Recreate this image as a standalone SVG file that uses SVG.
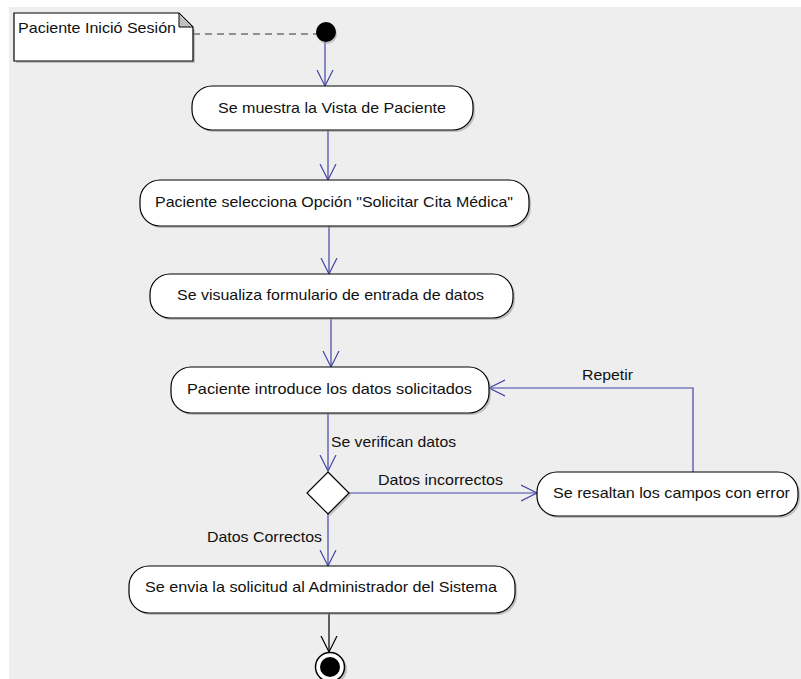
<svg xmlns="http://www.w3.org/2000/svg" width="801" height="679" viewBox="0 0 801 679">
  <style>
    .act { fill: #ffffff; stroke: #000000; stroke-width: 1.2; }
    .shadow { fill: #9a9a9a; opacity: 0.55; }
    .lbl { font-family: "Liberation Sans", Arial, sans-serif; font-size: 15px; fill: #111111; }
    .flow { stroke: #4343a8; stroke-width: 1.2; fill: none; }
    .flowEnd { stroke: #000000; stroke-width: 1.2; fill: none; }
  </style>
  <defs>
    <marker id="openArrow" viewBox="0 0 20 20" refX="16" refY="10" markerWidth="20" markerHeight="20" markerUnits="userSpaceOnUse" orient="auto">
      <path d="M0,2 L16,10 L0,18" fill="none" stroke="#4343a8" stroke-width="1.2"/>
    </marker>
    <marker id="openArrowBlack" viewBox="0 0 20 20" refX="16" refY="10" markerWidth="20" markerHeight="20" markerUnits="userSpaceOnUse" orient="auto">
      <path d="M0,2 L16,10 L0,18" fill="none" stroke="#000000" stroke-width="1.2"/>
    </marker>
  </defs>

  <!-- canvas -->
  <rect x="0" y="0" width="801" height="679" fill="#ffffff"/>
  <rect x="9" y="7" width="792" height="672" fill="#eeeeee"/>

  <!-- connectors -->
  <g id="connectors">
    <line x1="193" y1="34" x2="318" y2="34" stroke="#333333" stroke-width="1.2" stroke-dasharray="7,5"/>
    <line class="flow" x1="325" y1="42" x2="325" y2="86" marker-end="url(#openArrow)"/>
    <line class="flow" x1="328" y1="130" x2="328" y2="180" marker-end="url(#openArrow)"/>
    <line class="flow" x1="329" y1="226" x2="329" y2="274" marker-end="url(#openArrow)"/>
    <line class="flow" x1="331" y1="318" x2="331" y2="367" marker-end="url(#openArrow)"/>
    <line class="flow" x1="328" y1="413" x2="328" y2="471" marker-end="url(#openArrow)"/>
    <line class="flow" x1="349" y1="493" x2="537" y2="493" marker-end="url(#openArrow)"/>
    <polyline class="flow" points="693,472 693,388 489,388" marker-end="url(#openArrow)"/>
    <line class="flow" x1="328" y1="514" x2="328" y2="566" marker-end="url(#openArrow)"/>
    <line class="flowEnd" x1="329" y1="613" x2="329" y2="652" marker-end="url(#openArrowBlack)"/>
    <text class="lbl" x="331" y="447" textLength="125" lengthAdjust="spacingAndGlyphs">Se verifican datos</text>
    <text class="lbl" x="378" y="485" textLength="125" lengthAdjust="spacingAndGlyphs">Datos incorrectos</text>
    <text class="lbl" x="582" y="380" textLength="51" lengthAdjust="spacingAndGlyphs">Repetir</text>
    <text class="lbl" x="207" y="542" textLength="115" lengthAdjust="spacingAndGlyphs">Datos Correctos</text>
  </g>

  <!-- note -->
  <g id="note">
    <path d="M16,15 L180,15 L195,30 L195,63 L16,63 Z" class="shadow"/>
    <path d="M14,13 L179,13 L193,27 L193,61 L14,61 Z" fill="#ffffff" stroke="#000000" stroke-width="1.2"/>
    <path d="M179,13 L179,27 L193,27 Z" fill="#c0c0c0" stroke="#000000" stroke-width="1"/>
    <text class="lbl" x="18" y="33" textLength="158" lengthAdjust="spacingAndGlyphs">Paciente Inició Sesión</text>
  </g>

  <!-- initial node -->
  <g id="initial">
    <circle cx="327" cy="34" r="10" fill="#9a9a9a" opacity="0.55"/>
    <circle cx="326" cy="32" r="10" fill="#000000"/>
  </g>

  <g id="a1">
    <rect class="shadow" x="194" y="88" width="281" height="44" rx="20"/>
    <rect class="act" x="192" y="86" width="281" height="44" rx="20"/>
    <text class="lbl" x="218" y="113" textLength="228" lengthAdjust="spacingAndGlyphs">Se muestra la Vista de Paciente</text>
  </g>

  <g id="a2">
    <rect class="shadow" x="142" y="182" width="389" height="46" rx="20"/>
    <rect class="act" x="140" y="180" width="389" height="46" rx="20"/>
    <text class="lbl" x="155" y="207" textLength="358" lengthAdjust="spacingAndGlyphs">Paciente selecciona Opción "Solicitar Cita Médica"</text>
  </g>

  <g id="a3">
    <rect class="shadow" x="152" y="276" width="363" height="44" rx="20"/>
    <rect class="act" x="150" y="274" width="363" height="44" rx="20"/>
    <text class="lbl" x="177" y="300" textLength="307" lengthAdjust="spacingAndGlyphs">Se visualiza formulario de entrada de datos</text>
  </g>

  <g id="a4">
    <rect class="shadow" x="173" y="369" width="318" height="46" rx="20"/>
    <rect class="act" x="171" y="367" width="318" height="46" rx="20"/>
    <text class="lbl" x="187" y="394" textLength="285" lengthAdjust="spacingAndGlyphs">Paciente introduce los datos solicitados</text>
  </g>

  <g id="decision">
    <polygon class="shadow" points="330,474 351,495 330,516 309,495"/>
    <polygon class="act" points="328,472 349,493 328,514 307,493"/>
  </g>

  <g id="a5">
    <rect class="shadow" x="539" y="474" width="261" height="44" rx="20"/>
    <rect class="act" x="537" y="472" width="261" height="44" rx="20"/>
    <text class="lbl" x="553" y="498" textLength="237" lengthAdjust="spacingAndGlyphs">Se resaltan los campos con error</text>
  </g>

  <g id="a6">
    <rect class="shadow" x="131" y="568" width="386" height="47" rx="20"/>
    <rect class="act" x="129" y="566" width="386" height="47" rx="20"/>
    <text class="lbl" x="145" y="592" textLength="352" lengthAdjust="spacingAndGlyphs">Se envia la solicitud al Administrador del Sistema</text>
  </g>

  <!-- final node -->
  <g id="final">
    <circle cx="332" cy="669" r="15" fill="#9a9a9a" opacity="0.55"/>
    <circle cx="330" cy="667" r="14.5" fill="#ffffff" stroke="#000000" stroke-width="1.5"/>
    <circle cx="330" cy="667" r="10" fill="#000000"/>
  </g>
</svg>
